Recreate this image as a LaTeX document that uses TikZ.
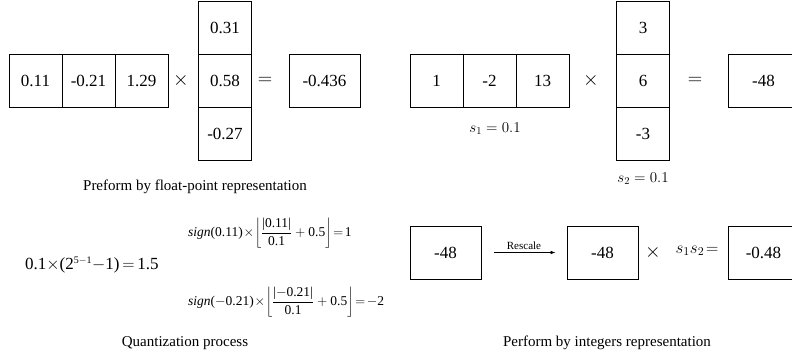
\documentclass[tikz,border=0pt]{standalone}
\usepackage{fix-cm}
\usepackage{fontspec}
\setmainfont{Liberation Serif}
\usetikzlibrary{arrows.meta}
\newcommand{\tn}[1]{\mbox{#1}}
\tikzset{
  cell/.style={draw, line width=0.8pt, minimum width=53pt, minimum height=53pt, inner sep=0pt, font=\fontsize{17}{20}\selectfont},
  wcell/.style={cell, minimum width=71pt},
  opsym/.style={inner sep=0pt, font=\fontsize{20}{24}\selectfont},
  captxt/.style={inner sep=0pt, font=\fontsize{15}{18}\selectfont},
  lbl/.style={inner sep=0pt, font=\fontsize{15}{18}\selectfont},
  frm/.style={inner sep=0pt, anchor=west, font=\fontsize{13.5}{16}\selectfont},
}
\begin{document}
\begin{tikzpicture}[x=1pt,y=-1pt]
\clip (0,0) rectangle (792,356);
\useasboundingbox (0,0) rectangle (792,356);
% ---- float-point ----
\node[cell] (a1) at (35.5,80.5) {0.11};
\node[cell] (a2) at (88.5,80.5) {-0.21};
\node[cell] (a3) at (141.5,80.5) {1.29};
\node[opsym] (x1) at (181,80.5) {$\times$};
\node[cell] (b1) at (225,27.5) {0.31};
\node[cell] (b2) at (225,80.5) {0.58};
\node[cell] (b3) at (225,134) {-0.27};
\node[opsym] (e1) at (265,80.5) {$=$};
\node[wcell] (c1) at (324.5,80.5) {-0.436};
\node[captxt] (capA) at (195,187) {Preform by float-point representation};
% ---- integer ----
\node[cell] (p1) at (436.5,80.5) {1};
\node[cell] (p2) at (489.5,80.5) {-2};
\node[cell] (p3) at (542.5,80.5) {13};
\node[opsym] (x2) at (591,80.5) {$\times$};
\node[cell] (q1) at (643,27.5) {3};
\node[cell] (q2) at (643,80.5) {6};
\node[cell] (q3) at (643,134) {-3};
\node[opsym] (e2) at (695,80.5) {$=$};
\node[wcell] (r1) at (763.5,80.5) {-48};
\node[lbl] (s1) at (495,129) {$s_1 = 0.1$};
\node[lbl] (s2) at (643,179) {$s_2 = 0.1$};
% ---- rescale ----
\node[wcell] (m1) at (445.5,252.5) {-48};
\node[wcell] (m2) at (602.5,252.5) {-48};
\node[wcell] (m3) at (763.5,252.5) {-0.48};
\draw[-{Latex[length=5pt,width=3.5pt]}, line width=0.7pt, shorten <=13pt, shorten >=11pt] (m1) -- node[above=3pt, inner sep=0pt, font=\fontsize{11}{13}\selectfont] {Rescale} (m2);
\node[opsym] (x3) at (653,252.5) {$\times$};
\node[lbl, font=\fontsize{17}{20}\selectfont] (s12) at (697,251) {$s_1s_2\!=$};
\node[captxt] (capC) at (607,343) {Perform by integers representation};
% ---- quantization ----
\node[frm, font=\fontsize{17}{20}\selectfont] (f0) at (25,265) {0.1$\times$(2$^{\tn{\fontsize{10}{12}\selectfont 5$-$1}}-$1)$\,=\,$1.5};
\node[frm] (f1) at (188,233) {$\displaystyle\tn{\itshape sign}\tn{(0.11)}\!\times\!\left\lfloor \frac{\tn{|0.11|}}{\tn{0.1}}+\tn{0.5} \right\rfloor\!=\!\tn{1}$};
\node[frm] (f2) at (188,302) {$\displaystyle\tn{\itshape sign}\tn{($-$0.21)}\!\times\!\left\lfloor \frac{\tn{|$-$0.21|}}{\tn{0.1}}+\tn{0.5} \right\rfloor\!=\!-\tn{2}$};
\node[captxt] (capB) at (185,343) {Quantization process};
\end{tikzpicture}
\end{document}
